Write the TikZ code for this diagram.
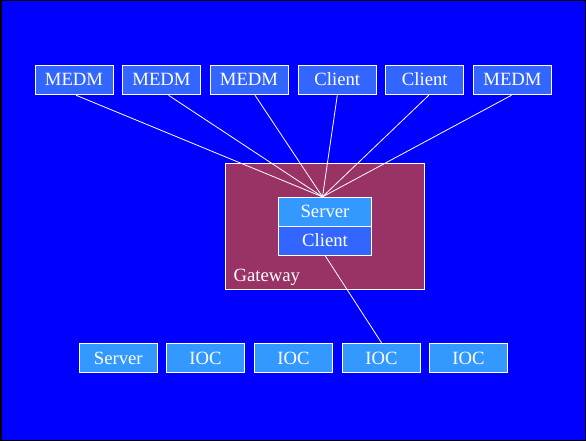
\documentclass[tikz,border=0pt]{standalone}
\usepackage{fontspec}
\setmainfont{Liberation Serif}
\definecolor{bgblue}{HTML}{0000FF}
\definecolor{boxA}{HTML}{3366FF}
\definecolor{boxB}{HTML}{3399FF}
\definecolor{gwcol}{HTML}{993366}
\begin{document}
\begin{tikzpicture}[x=1pt,y=-1pt,
  bx/.style={draw=white, line width=1pt, text=white, inner sep=0pt,
    font=\fontsize{18.7}{20}\selectfont, text height=12pt, text depth=0pt,
    minimum width=78pt, minimum height=29.5pt},
  topbox/.style={bx, fill=boxA},
  botbox/.style={bx, fill=boxB},
  wire/.style={draw=white, line width=0.8pt}]
\useasboundingbox (0,0) rectangle (586,441);
\fill[bgblue] (0,0) rectangle (586,441);
\draw[black, line width=1.5pt] (0.75,0.75) rectangle (585.25,440.25);
% top row
\node[topbox] (m1) at (74,80) {MEDM};
\node[topbox] (m2) at (161.5,80) {MEDM};
\node[topbox] (m3) at (249,80) {MEDM};
\node[topbox] (c1) at (337.3,80) {Client};
\node[topbox] (c2) at (424.8,80) {Client};
\node[topbox] (m6) at (512.5,80) {MEDM};
% gateway
\node[draw=white, line width=1pt, fill=gwcol, minimum width=199pt, minimum height=126pt, inner sep=0pt] (gw) at (324.7,226.3) {};
\node[bx, fill=boxB, minimum width=93.4pt, minimum height=28.7pt] (srv) at (325,211.7) {Server};
\node[bx, fill=boxA, minimum width=93.4pt, minimum height=29pt] (cli) at (325,240.5) {Client};
\node[text=white, font=\fontsize{18.7}{20}\selectfont, inner sep=0pt, anchor=base west] (gwl) at (233.3,281.5) {Gateway};
% bottom row
\node[botbox] (s0) at (118.3,358) {Server};
\node[botbox] (i1) at (205.5,358) {IOC};
\node[botbox] (i2) at (293.5,358) {IOC};
\node[botbox] (i3) at (381.5,358) {IOC};
\node[botbox] (i4) at (468.4,358) {IOC};
% connectors
\coordinate (hub) at ([xshift=-2.5pt]srv.north);
\draw[wire] ([xshift=2pt]m1.south) -- (hub);
\draw[wire] ([xshift=7pt]m2.south) -- (hub);
\draw[wire] ([xshift=6pt]m3.south) -- (hub);
\draw[wire] (c1.south) -- (hub);
\draw[wire] ([xshift=4pt]c2.south) -- (hub);
\draw[wire] ([xshift=-1pt]m6.south) -- (hub);
\draw[wire] (cli.south) -- (i3.north);
\end{tikzpicture}
\end{document}
